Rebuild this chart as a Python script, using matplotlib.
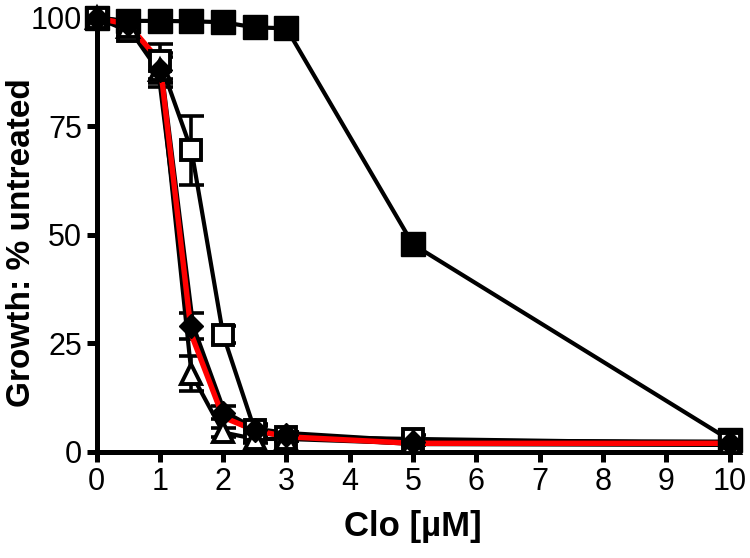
import matplotlib
matplotlib.use("Agg")
import matplotlib.pyplot as plt
import numpy as np

plt.rcParams['font.family'] = ['Liberation Sans', 'DejaVu Sans']

conc = [0, 0.5, 1, 1.5, 2, 2.5, 3, 5, 10]

filled_sq = [100, 99.3, 99.3, 99.2, 99.0, 97.8, 97.6, 47.8, 2.8]
open_sq = [100, 97, 90, 69.5, 27, 5, 3.5, 3, 2]
open_sq_err = [0, 1.5, 4, 8, 2, 1.5, 1, 1, 0.5]
open_tri = [100, 98, 88, 18, 4.5, 3, 3, 2, 2]
open_tri_err = [0, 1, 3, 4, 1, 1, 0.5, 0.5, 0.5]
diamond = [100, 98.5, 88, 29, 9, 5, 4, 2.2, 2]
diamond_err = [0, 1, 4, 3, 1.5, 1, 0.5, 0.5, 0.5]
red_line = [100, 98.5, 90, 27, 8, 5, 3.5, 2, 2]

xticks = list(range(0, 11))
yticks = [0, 25, 50, 75, 100]

fig = plt.figure(figsize=(7.5, 5.58), dpi=100)
ax = fig.add_axes([0.1287, 0.19, 0.844, 0.778])

lw = 3.0
# lines
ax.plot(conc, filled_sq, color='black', lw=lw, zorder=2, clip_on=False)
ax.plot(conc, open_sq, color='black', lw=lw, zorder=2, clip_on=False)
ax.plot(conc, open_tri, color='black', lw=lw, zorder=2, clip_on=False)
ax.plot(conc, diamond, color='black', lw=lw*1.8, zorder=2, clip_on=False)
ax.plot(conc, red_line, color='#ff0000', lw=lw*1.3, zorder=3, clip_on=False)

# error bars
for y, e in [(open_sq, open_sq_err), (open_tri, open_tri_err), (diamond, diamond_err)]:
    ax.errorbar(conc, y, yerr=e, fmt='none', ecolor='black',
                elinewidth=2.6, capsize=9, capthick=2.6, zorder=2, clip_on=False)

# markers
ax.plot(conc, filled_sq, ls='none', marker='s', ms=17, mfc='black', mec='black',
        zorder=4, clip_on=False)
ax.plot(conc, open_sq, ls='none', marker='s', ms=14, mfc='white', mec='black',
        mew=2.8, zorder=4, clip_on=False)
ax.plot(conc, open_tri, ls='none', marker='^', ms=15, mfc='white', mec='black',
        mew=2.8, zorder=4, clip_on=False)
ax.plot(conc, diamond, ls='none', marker='D', ms=12, mfc='black', mec='black',
        zorder=4, clip_on=False)

ax.set_xlim(0, 10)
ax.set_ylim(0, 100)
ax.set_xticks(xticks)
ax.set_yticks(yticks)
ax.set_xticklabels([str(t) for t in xticks])
ax.set_yticklabels([str(t) for t in yticks])

for s in ['top', 'right']:
    ax.spines[s].set_visible(False)
for s in ['left', 'bottom']:
    ax.spines[s].set_linewidth(3.6)

ax.tick_params(axis='both', direction='out', length=7.5, width=3.6,
               labelsize=22, pad=3)

ax.set_xlabel('Clo [µM]', fontsize=25, fontweight='bold', labelpad=10)
fig.text(0.029, 0.565, 'Growth: % untreated', fontsize=24, fontweight='bold',
         rotation=90, ha='center', va='center')

fig.savefig('out.png', dpi=100)
